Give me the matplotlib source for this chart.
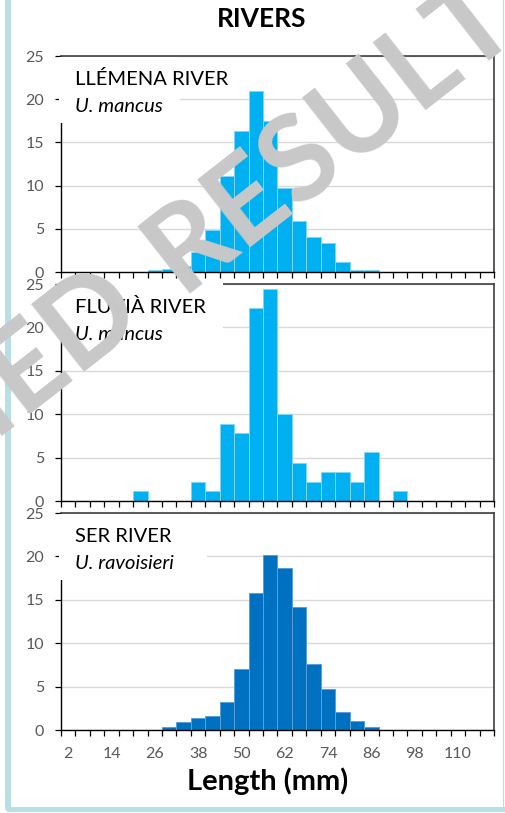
import numpy as np
import matplotlib.pyplot as plt
from matplotlib.patches import Rectangle
from matplotlib.lines import Line2D

plt.rcParams['font.family'] = ['Lato', 'DejaVu Sans']

# shell length classes (mm), one bar per class
size_classes = [2, 6, 10, 14, 18, 22, 26, 30, 34, 38, 42, 46, 50, 54, 58,
                62, 66, 70, 74, 78, 82, 86, 90, 94, 98, 102, 106, 110, 114, 118]
tick_classes = [2, 14, 26, 38, 50, 62, 74, 86, 98, 110]

# frequency (%) per class
llemena = [0, 0, 0, 0, 0, 0, 0.2, 0.4, 0.7, 2.3, 4.9, 11.1, 16.3, 20.9, 17.5,
           9.7, 5.9, 4.1, 3.3, 1.2, 0.2, 0.2, 0, 0, 0, 0, 0, 0, 0, 0]
fluvia = [0, 0, 0, 0, 0, 1.1, 0, 0, 0, 2.2, 1.1, 8.9, 7.8, 22.2, 24.4,
          10.0, 4.4, 2.2, 3.3, 3.3, 2.2, 5.6, 0, 1.1, 0, 0, 0, 0, 0, 0]
ser = [0, 0, 0, 0, 0, 0, 0.05, 0.4, 0.95, 1.35, 1.6, 3.25, 7.0, 15.8, 20.2,
       18.7, 14.2, 7.6, 4.75, 2.1, 1.0, 0.3, 0.05, 0.05, 0, 0, 0, 0, 0, 0]

rivers = ["LLÉMENA RIVER", "FLUVIÀ RIVER", "SER RIVER"]
species = ["U. mancus", "U. mancus", "U. ravoisieri"]

W, H = 506, 813
fig = plt.figure(figsize=(W / 100, H / 100), dpi=100)


def px(x, y):
    return x / W, 1 - y / H


panels = [
    # top, bottom (px), data, colour, edge, label box (right px, bottom px, top px)
    (56, 272, llemena, '#00b0f0', '#7fd6f7', (180, 123, 57)),
    (284, 501, fluvia, '#00b0f0', '#7fd6f7', (223, 333, 281)),
    (513, 730, ser, '#0070c0', '#5a9fd8', (207, 580, 514)),
]
left, right = 61, 494

x = np.arange(len(size_classes))
axes = []
for i, (top, bot, vals, col, edge, box) in enumerate(panels):
    ax = fig.add_axes([left / W, 1 - bot / H, (right - left) / W, (bot - top) / H])
    axes.append(ax)
    ax.bar(x, vals, width=1.0, color=col, edgecolor=edge, linewidth=0.7, zorder=2)
    ax.set_xlim(-0.5, len(size_classes) - 0.5)
    ax.set_ylim(0, 25)
    ax.set_yticks([0, 5, 10, 15, 20, 25])
    ax.yaxis.grid(True, color='#d9d9d9', linewidth=1.0, zorder=0)
    ax.set_axisbelow(True)

    ax.set_xticks([size_classes.index(t) for t in tick_classes])
    ax.set_xticks(np.arange(-0.5, len(size_classes)), minor=True)
    ax.tick_params(axis='x', which='major', length=0, pad=12, labelsize=11.5,
                   labelcolor='#595959')
    ax.tick_params(axis='x', which='minor', length=4.3, width=0.9, color='black',
                   direction='out')
    ax.tick_params(axis='y', length=4.3, width=0.9, color='black', pad=8,
                   labelsize=11.5, labelcolor='#595959')
    if i < 2:
        ax.set_xticklabels([])
    else:
        ax.set_xticklabels([str(t) for t in tick_classes])

    for s in ['left', 'bottom']:
        ax.spines[s].set_color('black')
        ax.spines[s].set_linewidth(1.0)
    for s in ['top', 'right']:
        ax.spines[s].set_color('#404040')
        ax.spines[s].set_linewidth(1.2)

    # white label box over the grid
    bx, bb, bt = box
    x1 = (bx - left) / (right - left)
    y0 = 1 - (bb - top) / (bot - top)
    y1 = 1 - (bt - top) / (bot - top)
    ax.add_patch(Rectangle((-0.004, y0), x1 + 0.004, y1 - y0, transform=ax.transAxes,
                           facecolor='white', edgecolor='none', zorder=3,
                           clip_on=False))
    ax.text(14 / (right - left), 1 - 29 / (bot - top), rivers[i],
            transform=ax.transAxes, fontsize=14.5, color='black', zorder=5)
    ax.text(14 / (right - left), 1 - 56 / (bot - top), species[i],
            transform=ax.transAxes, fontsize=14.5, style='italic', color='black',
            zorder=5)

fig.text(*px(262, 19), "RIVERS", ha='center', va='center', fontsize=19,
         fontweight='bold')
fig.text(*px(268, 781), "Length (mm)", ha='center', va='center', fontsize=21,
         fontweight='bold')

# surrounding frame
frame = '#b7dfe5'
fig.add_artist(Line2D([8 / W, 8 / W], [1 - 808 / H, 1.0], color=frame, linewidth=4.3,
                      transform=fig.transFigure, solid_capstyle='round'))
fig.add_artist(Line2D([8 / W, 1], [1 - 808.5 / H, 1 - 808.5 / H], color=frame,
                      linewidth=3.6, transform=fig.transFigure, solid_capstyle='round'))
fig.add_artist(Line2D([503 / W, 503 / W], [1 - 808 / H, 1.0],
                      color=frame, linewidth=0.8, transform=fig.transFigure))

# watermark
ang = 38
grey = '#c8c8c8'
d = np.array([np.cos(np.radians(ang)), -np.sin(np.radians(ang))])
q = np.array([147.6, 316.0])
p = q + 42 * d + np.array([0.0, 4.0])
fig.text(*px(*p), "RESULTS", rotation=ang, rotation_mode='anchor', ha='left',
         va='baseline', fontsize=86, fontweight='bold', color=grey, zorder=10)
fig.text(*px(*q), "UNPUBLISHED", rotation=ang, rotation_mode='anchor', ha='right',
         va='baseline', fontsize=86, fontweight='bold', color=grey, zorder=10)

fig.savefig('out.png', dpi=100)
